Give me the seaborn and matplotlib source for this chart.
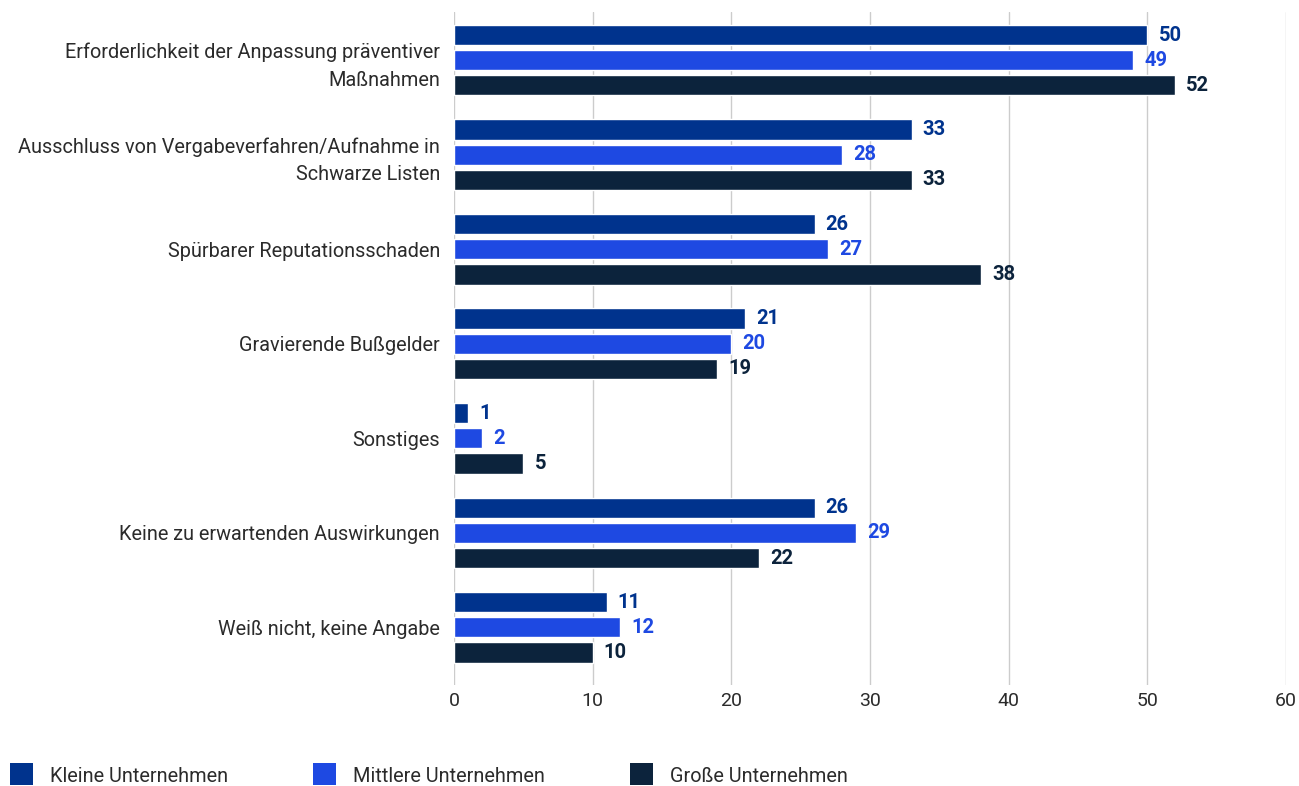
import matplotlib
matplotlib.use("Agg")
import matplotlib.pyplot as plt
from matplotlib.patches import Rectangle
import seaborn as sns
import pandas as pd

categories = [
    "Erforderlichkeit der Anpassung präventiver\nMaßnahmen",
    "Ausschluss von Vergabeverfahren/Aufnahme in\nSchwarze Listen",
    "Spürbarer Reputationsschaden",
    "Gravierende Bußgelder",
    "Sonstiges",
    "Keine zu erwartenden Auswirkungen",
    "Weiß nicht, keine Angabe",
]
series = ["Kleine Unternehmen", "Mittlere Unternehmen", "Große Unternehmen"]
kleine = [50, 33, 26, 21, 1, 26, 11]
mittlere = [49, 28, 27, 20, 2, 29, 12]
grosse = [52, 33, 38, 19, 5, 22, 10]
colors = ["#00338D", "#1E49E2", "#0C233C"]

rows = []
for name, vals in zip(series, [kleine, mittlere, grosse]):
    for cat, v in zip(categories, vals):
        rows.append({"Kategorie": cat, "Wert": v, "Größe": name})
df = pd.DataFrame(rows)

sns.set_theme(style="white")
plt.rcParams["font.family"] = ["Roboto", "DejaVu Sans"]

fig = plt.figure(figsize=(12.99, 7.86), dpi=100)
ax = fig.add_axes([454 / 1299, 1 - 685 / 786, (1286 - 454) / 1299, (685 - 12) / 786])

sns.barplot(data=df, y="Kategorie", x="Wert", hue="Größe", order=categories,
            hue_order=series, palette=colors, orient="h", width=0.8, gap=0.2,
            legend=False, ax=ax, saturation=1)

ax.set_xlim(0, 60)
ax.set_ylim(6.61, -0.51)
ax.set_xticks(range(0, 61, 10))
ax.grid(axis="x", color="#cccccc", linewidth=1)
ax.set_axisbelow(True)
for s in ax.spines.values():
    s.set_visible(False)
ax.set_xlabel("")
ax.set_ylabel("")
text_col = "#2b2b2b"
ax.tick_params(axis="x", length=0, pad=5, labelsize=14, labelcolor=text_col)
ax.tick_params(axis="y", length=0, pad=10, labelsize=14.3, labelcolor=text_col)
for lbl in ax.get_yticklabels():
    lbl.set_horizontalalignment("right")
    lbl.set_multialignment("right")
    lbl.set_linespacing(1.55)

for container, col in zip(ax.containers, colors):
    ax.bar_label(container, fmt="%d", padding=8, color=col,
                 fontsize=14.5, fontweight="bold")

# legend row along the bottom edge
legend_x = [10, 313, 630]
for name, col, x in zip(series, colors, legend_x):
    fig.add_artist(Rectangle((x / 1299, 1 / 786), 23 / 1299, 22 / 786,
                             transform=fig.transFigure, facecolor=col, edgecolor="none"))
    fig.text((x + 40) / 1299, 1 - 776 / 786, name, fontsize=14.3, color=text_col,
             va="center", ha="left")

fig.savefig("out.png", dpi=100)
